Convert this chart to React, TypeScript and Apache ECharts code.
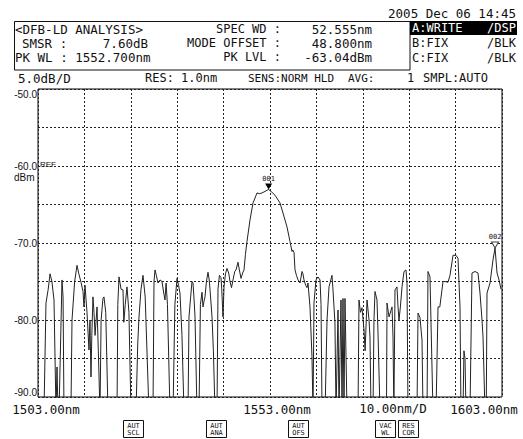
import React, { useEffect, useRef } from 'react';
import * as echarts from 'echarts';

const MONO = '"DejaVu Sans Mono", "Liberation Mono", monospace';
const SANS = '"Liberation Sans", Arial, sans-serif';

// Display span and scale
const X_MIN = 1503;
const X_MAX = 1603;
const X_STEP = 10;
const Y_MIN = -90;
const Y_MAX = -50;
const Y_STEP = 5;

// Axis labels printed by the analyser
const xLabelValues = [1503, 1553, 1603];
const xLabelTexts = ['1503.00nm', '1553.00nm', '1603.00nm'];
const yLabelValues = [-50, -60, -70, -80, -90];

// Trace A: [wavelength nm, level dBm]; -92 lies below the display floor
const spectrumTrace: [number, number][] = [
  [1503.2, -92], [1504.29, -92], [1504.72, -77.8], [1505.2, -76.0], [1505.59, -74.0], [1506.0, -75.0],
  [1506.45, -77.4], [1506.88, -92], [1507.1, -86.1], [1507.31, -92], [1507.53, -92], [1508.17, -74.8],
  [1508.4, -77], [1508.6, -92], [1510.1, -92], [1510.33, -80], [1510.9, -75], [1511.41, -72.9],
  [1511.8, -74], [1512.27, -75.1], [1512.7, -76.3], [1512.91, -78.3], [1513.13, -75.5], [1513.56, -79],
  [1513.99, -83.9], [1514.2, -80], [1514.42, -87.4], [1514.6, -82], [1514.85, -77.0], [1515.07, -79],
  [1515.3, -82], [1515.72, -78.3], [1516.0, -84], [1516.36, -92], [1516.6, -80], [1517.0, -77.2],
  [1517.22, -77.0], [1517.6, -79], [1518.09, -92],
  [1520.03, -92], [1520.2, -78], [1520.46, -74.4], [1520.9, -76], [1521.32, -76.1], [1521.5, -80.3],
  [1521.8, -78], [1522.18, -75.7], [1522.6, -79], [1523.04, -92],
  [1524.12, -92], [1524.5, -83], [1524.77, -79.6], [1525.2, -76], [1525.63, -74.2], [1526.1, -77], [1526.92, -92],
  [1527.78, -92], [1528.0, -75], [1528.22, -73.5], [1528.5, -74.2], [1528.86, -75.2], [1529.3, -74.8],
  [1529.72, -75.0], [1530.1, -76.5], [1530.37, -77.4], [1530.6, -75.2], [1530.9, -78], [1531.45, -92],
  [1532.1, -92], [1532.5, -78], [1532.96, -74.6], [1533.3, -75.5], [1533.6, -76.5], [1534.03, -82],
  [1534.2, -86], [1534.47, -92],
  [1535.33, -92], [1535.54, -79.6], [1535.9, -77], [1536.19, -75.0], [1536.41, -75.2], [1536.6, -77],
  [1536.84, -79.6], [1537.27, -92],
  [1537.7, -92], [1538.0, -78], [1538.35, -76.4], [1538.56, -78.3], [1538.8, -77.5], [1538.99, -77.0],
  [1539.3, -75], [1539.64, -73.8], [1539.9, -74.8], [1540.07, -76], [1540.5, -79.6], [1540.8, -84], [1541.15, -92],
  [1541.58, -92], [1541.79, -76], [1542.1, -74.2], [1542.44, -74.5], [1542.6, -76], [1542.87, -79.6],
  [1543.09, -75.7], [1543.4, -74], [1543.73, -73.3], [1544.1, -73.9], [1544.38, -75], [1544.7, -75.8],
  [1545.03, -74.8], [1545.4, -73.7], [1545.67, -73.5], [1546.1, -72.5], [1546.4, -73.5], [1546.75, -74.6],
  [1547.1, -73.9], [1547.4, -73.5], [1547.7, -71.5], [1548.04, -69.8], [1548.69, -67.0], [1549.34, -64.8],
  [1550.2, -63.5], [1550.7, -63.6], [1551.28, -63.5], [1551.92, -63.3], [1552.7, -63.04], [1553.4, -63.4],
  [1554.08, -63.8], [1555.16, -64.8], [1555.8, -66.1], [1556.66, -67.9], [1557.31, -69.8], [1557.74, -71.1],
  [1557.9, -70.9], [1558.17, -71.2], [1558.39, -73.5], [1558.7, -74.2], [1559.04, -74.8], [1559.47, -75.2],
  [1559.9, -73.7], [1560.1, -74.0], [1560.33, -74.8], [1560.7, -75.5], [1560.98, -75.8], [1561.19, -75.2],
  [1561.62, -78.3], [1562.05, -84.8], [1562.27, -92], [1562.48, -77.8], [1562.91, -74.8], [1563.35, -74.4],
  [1563.78, -74.8], [1564.0, -78], [1564.21, -92],
  [1564.86, -92], [1565.29, -80], [1565.72, -75.7], [1566.36, -74.2], [1566.58, -76.1], [1567.0, -80.4],
  [1567.23, -92], [1567.66, -78.7], [1567.87, -92], [1568.3, -77.4], [1568.52, -92], [1568.73, -77.2],
  [1568.95, -92], [1569.16, -77.2], [1569.6, -92],
  [1571.97, -92], [1572.18, -77.4], [1572.5, -79], [1572.83, -78.4], [1573.26, -81.3], [1573.5, -84],
  [1573.91, -77.4], [1574.34, -80], [1574.55, -82.2], [1574.77, -92],
  [1575.2, -92], [1575.41, -80], [1575.63, -76.3], [1576.06, -77.4], [1576.28, -81.7], [1576.71, -92],
  [1578.1, -92], [1578.22, -77.8], [1578.65, -79.6], [1579.3, -78.3], [1579.51, -82.2], [1579.7, -92],
  [1579.94, -76.1], [1580.37, -75.7], [1580.59, -78.3], [1580.8, -80], [1581.1, -78.3], [1581.45, -75.7],
  [1581.88, -73.7], [1582.31, -73.5], [1582.53, -75.2], [1582.74, -92],
  [1584.68, -92], [1584.9, -79.1], [1585.33, -79.7], [1585.76, -82.6], [1585.98, -92],
  [1586.84, -92], [1587.05, -73.7], [1587.48, -74.4], [1588.13, -92],
  [1588.78, -92], [1589.21, -78.3], [1589.6, -78.3], [1590.29, -75], [1590.72, -75], [1591.36, -75.1],
  [1591.79, -74.2], [1592.44, -71.6], [1593.09, -71.6], [1593.52, -72.0], [1593.95, -78.3], [1594.16, -92],
  [1594.59, -92], [1594.8, -84], [1595.03, -85], [1595.24, -92],
  [1596.1, -92], [1596.53, -73.9], [1597.18, -73.7], [1597.83, -73.9], [1598.26, -76.5], [1598.69, -80],
  [1598.91, -82.2], [1599.34, -92], [1599.6, -92], [1599.77, -76.5], [1600.42, -75.2], [1601.06, -72.2],
  [1601.5, -70.64], [1601.93, -73.9], [1602.36, -74.8], [1602.79, -76],
];

// Peak markers
const markerIds = ['001', '002'];
const markerWavelength = [1552.7, 1601.5];
const markerLevel = [-63.04, -70.64];

// Analysis results
const timestamp = '2005 Dec 06 14:45';
const analysisTitle = '<DFB-LD ANALYSIS>';
const smsr = '7.60dB';
const peakWl = '1552.700nm';
const specWidth = '52.555nm';
const modeOffset = '48.800nm';
const peakLevel = '-63.04dBm';
const traceModes = [
  ['A:WRITE', '/DSP'],
  ['B:FIX', '/BLK'],
  ['C:FIX', '/BLK'],
];
const softKeys = ['AUT\nSCL', 'AUT\nANA', 'AUT\nOFS', 'VAC\nWL', 'RES\nCOR'];

function txt(text: string, x: number, y: number, size: number, align = 'left', fill = '#111', family = MONO) {
  return {
    type: 'text',
    x,
    y,
    silent: true,
    style: {
      text,
      fill,
      font: `${size}px ${family}`,
      align,
      verticalAlign: 'middle',
    },
  };
}

export default function App() {
  const ref = useRef<HTMLDivElement>(null);

  useEffect(() => {
    if (!ref.current) return;
    const chart = echarts.init(ref.current, null, { renderer: 'svg' });

    const keyX = [123, 206, 288, 375, 398];
    const keyElements: any[] = [];
    softKeys.forEach((k, i) => {
      keyElements.push({
        type: 'rect',
        shape: { x: keyX[i] + 0.5, y: 420.5, width: 20, height: 17 },
        style: { fill: '#fff', stroke: '#111', lineWidth: 1 },
        silent: true,
      });
      keyElements.push({
        type: 'text',
        x: keyX[i] + 10.5,
        y: 429,
        silent: true,
        style: {
          text: k,
          fill: '#111',
          font: `7px ${MONO}`,
          lineHeight: 7,
          align: 'center',
          verticalAlign: 'middle',
        },
      });
    });

    const modeElements: any[] = [
      {
        type: 'rect',
        shape: { x: 410, y: 21, width: 107, height: 14 },
        style: { fill: '#000' },
        silent: true,
      },
    ];
    traceModes.forEach((m, i) => {
      const y = 28 + i * 15;
      const fill = i === 0 ? '#fff' : '#111';
      modeElements.push(txt(m[0], 412, y, 12, 'left', fill));
      modeElements.push(txt(m[1], 516, y, 12, 'right', fill));
    });

    const option: any = {
      animation: false,
      backgroundColor: '#fff',
      grid: {
        left: 38,
        top: 89,
        width: 464,
        height: 308,
        show: true,
        borderColor: '#000',
        borderWidth: 1,
        backgroundColor: 'transparent',
      },
      xAxis: {
        type: 'value',
        min: X_MIN,
        max: X_MAX,
        interval: X_STEP,
        axisLine: { show: false },
        axisTick: { show: false },
        splitLine: { show: true, lineStyle: { color: '#222', width: 1, type: [2, 2] } },
        axisLabel: {
          margin: 6,
          color: '#111',
          fontFamily: MONO,
          fontSize: 12.5,
          formatter: (v: number) => {
            const i = xLabelValues.indexOf(Math.round(v));
            if (i < 0) return '';
            return `{${['a', 'b', 'c'][i]}|${xLabelTexts[i]}}`;
          },
          rich: {
            a: { fontFamily: MONO, fontSize: 12.5, color: '#111', padding: [0, 0, 0, 16] },
            b: { fontFamily: MONO, fontSize: 12.5, color: '#111', padding: [0, 0, 0, 14] },
            c: { fontFamily: MONO, fontSize: 12.5, color: '#111', padding: [0, 36, 0, 0] },
          },
        },
      },
      yAxis: {
        type: 'value',
        min: Y_MIN,
        max: Y_MAX,
        interval: Y_STEP,
        axisLine: { show: false },
        axisTick: { show: false },
        splitLine: { show: true, lineStyle: { color: '#222', width: 1, type: [2, 2] } },
        axisLabel: {
          margin: 1,
          color: '#111',
          fontFamily: SANS,
          fontSize: 10,
          verticalAlignMinLabel: 'bottom',
          verticalAlignMaxLabel: 'top',
          formatter: (v: number) => (yLabelValues.includes(Math.round(v)) ? v.toFixed(1) : ''),
        },
      },
      series: [
        {
          type: 'line',
          data: spectrumTrace,
          showSymbol: false,
          symbol: 'none',
          clip: true,
          lineStyle: { color: '#222', width: 1 },
          markPoint: {
            symbol: 'path://M0,0L10,0L5,9Z',
            symbolSize: [7, 6],
            symbolOffset: [0, -3],
            label: {
              show: true,
              position: 'top',
              distance: 1,
              formatter: '{b}',
              fontSize: 7,
              fontFamily: MONO,
              color: '#111',
            },
            data: markerIds.map((id, i) => ({
              name: id,
              coord: [markerWavelength[i], markerLevel[i]],
              itemStyle:
                i === 0
                  ? { color: '#000' }
                  : { color: '#fff', borderColor: '#444', borderWidth: 1 },
            })),
          },
        },
      ],
      graphic: {
        elements: [
          txt(timestamp, 516, 13, 12.5, 'right'),
          {
            type: 'rect',
            shape: { x: 14.5, y: 21.5, width: 395.5, height: 48.5 },
            style: { fill: 'none', stroke: '#111', lineWidth: 1 },
            silent: true,
          },
          txt(analysisTitle, 15, 29, 12.5),
          txt('SMSR :', 22, 43, 12.5),
          txt(smsr, 148, 43, 12.5, 'right'),
          txt('PK WL : ' + peakWl, 15, 57, 12.5),
          txt('SPEC WD :', 281, 29, 12, 'right'),
          txt(specWidth, 372, 29, 12.5, 'right'),
          txt('MODE OFFSET :', 281, 43, 12, 'right'),
          txt(modeOffset, 372, 43, 12.5, 'right'),
          txt('PK LVL :', 281, 57, 12, 'right'),
          txt(peakLevel, 372, 57, 12.5, 'right'),
          ...modeElements,
          txt('5.0dB/D', 18, 78, 12.5),
          txt('RES: 1.0nm', 145, 78, 12),
          txt('SENS:NORM HLD', 248, 78, 11),
          txt('AVG:', 348, 78, 11),
          txt('1', 407, 78, 12),
          txt('SMPL:AUTO', 423, 78, 12),
          txt('REF', 40, 164, 8, 'left', '#111', SANS),
          txt('dBm', 14, 177, 10, 'left', '#111', SANS),
          txt('10.00nm/D', 393, 408, 12.5, 'center'),
          ...keyElements,
        ],
      },
    };

    chart.setOption(option);
    return () => chart.dispose();
  }, []);

  return (
    <div
      ref={ref}
      style={{ position: 'fixed', left: 0, top: 0, width: 523, height: 439, background: '#fff' }}
    />
  );
}
